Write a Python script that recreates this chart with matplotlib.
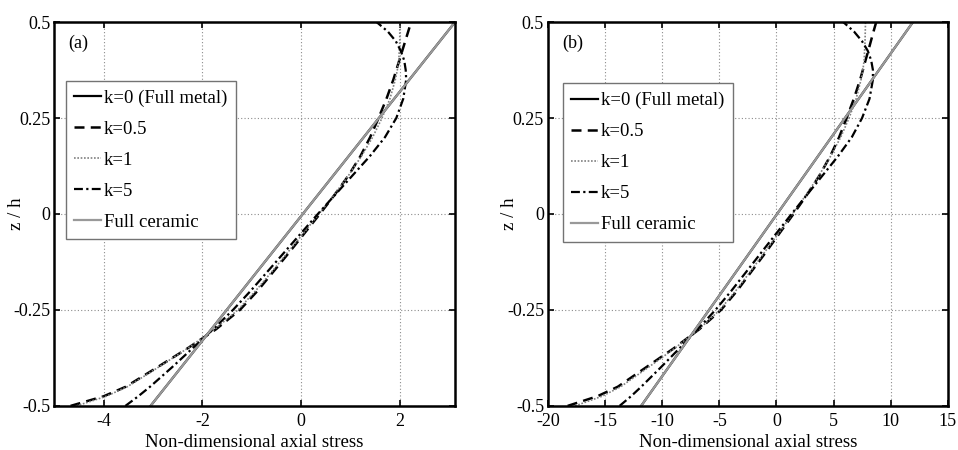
import matplotlib
matplotlib.use("Agg")
import matplotlib.pyplot as plt

plt.rcParams['font.family'] = ['Liberation Serif', 'DejaVu Serif']

z = [-0.5, -0.475, -0.45, -0.4, -0.35, -0.3, -0.25, -0.2, -0.15, -0.1, -0.05, 0.0,
     0.05, 0.1, 0.15, 0.2, 0.25, 0.3, 0.35, 0.375, 0.4, 0.425, 0.45, 0.475, 0.5]
z_lin = [-0.5, 0.5]

# Panel (a)
a_k0 = [-3.05, 3.12]
a_k05 = [-4.67, -4.0, -3.55, -2.92, -2.3, -1.72, -1.24, -0.88, -0.56, -0.24, 0.07, 0.38,
         0.68, 0.96, 1.2, 1.4, 1.57, 1.73, 1.87, 1.93, 1.99, 2.05, 2.11, 2.17, 2.23]
a_k1 = [-4.55, -3.95, -3.52, -2.9, -2.3, -1.75, -1.28, -0.92, -0.59, -0.27, 0.05, 0.36,
        0.67, 0.96, 1.22, 1.45, 1.64, 1.8, 1.91, 1.95, 1.98, 1.99, 2.0, 2.0, 2.0]
a_k5 = [-3.56, -3.3, -3.06, -2.62, -2.2, -1.78, -1.38, -1.02, -0.68, -0.34, 0.0, 0.34,
        0.69, 1.04, 1.39, 1.7, 1.93, 2.07, 2.13, 2.12, 2.09, 2.02, 1.92, 1.76, 1.53]
a_cer = [-3.05, 3.12]

# Panel (b)
b_k0 = [-11.86, 11.96]
b_k05 = [-18.3, -15.7, -13.9, -11.45, -9.0, -6.75, -4.86, -3.45, -2.2, -0.94, 0.27, 1.49,
         2.67, 3.76, 4.7, 5.49, 6.15, 6.78, 7.33, 7.57, 7.8, 8.04, 8.27, 8.5, 8.74]
b_k1 = [-17.65, -15.3, -13.65, -11.25, -8.92, -6.79, -4.97, -3.57, -2.29, -1.05, 0.19, 1.4,
        2.6, 3.72, 4.73, 5.63, 6.36, 6.98, 7.41, 7.57, 7.68, 7.72, 7.76, 7.78, 7.8]
b_k5 = [-13.75, -12.75, -11.85, -10.15, -8.5, -6.9, -5.35, -3.95, -2.63, -1.32, 0.0, 1.32,
        2.67, 4.03, 5.38, 6.6, 7.5, 8.15, 8.45, 8.45, 8.3, 8.0, 7.5, 6.8, 5.85]
b_cer = [-11.86, 11.96]

labels = ["k=0 (Full metal)", "k=0.5", "k=1", "k=5", "Full ceramic"]
yticks = [-0.5, -0.25, 0, 0.25, 0.5]
ytick_labels = ["-0.5", "-0.25", "0", "0.25", "0.5"]
a_xticks = [-4, -2, 0, 2]
b_xticks = [-20, -15, -10, -5, 0, 5, 10, 15]

fig = plt.figure(figsize=(9.58, 4.5), dpi=100)
ax_a = fig.add_axes([0.0567, 0.098, 0.4183, 0.853])
ax_b = fig.add_axes([0.5723, 0.098, 0.4169, 0.853])

def draw(ax, k0, k05, k1, k5, cer, xlim, xticks, tag, legx, legy, ylx):
    ax.plot(k0, z_lin, color='black', lw=1.6, ls='-', label=labels[0])
    ax.plot(k05, z, color='black', lw=1.8, ls=(0, (4, 2.5)), label=labels[1])
    ax.plot(k1, z, color='0.5', lw=1.2, ls=(0, (1, 1)), label=labels[2])
    ax.plot(k5, z, color='black', lw=1.6, ls=(0, (4, 1.5, 1, 1.5)), label=labels[3])
    ax.plot(cer, z_lin, color='0.6', lw=1.6, ls='-', label=labels[4])
    ax.set_xlim(*xlim)
    ax.set_ylim(-0.5, 0.5)
    ax.set_xticks(xticks)
    ax.set_xticklabels([str(t) for t in xticks])
    ax.set_yticks(yticks)
    ax.set_yticklabels(ytick_labels)
    ax.grid(True, color='0.55', ls=(0, (1, 2)), lw=0.8)
    ax.tick_params(direction='in', top=True, right=True, labelsize=13, length=4,
                   width=1.2)
    ax.tick_params(axis='x', pad=5)
    ax.tick_params(axis='y', pad=3)
    for s in ax.spines.values():
        s.set_linewidth(1.8)
    ax.set_xlabel("Non-dimensional axial stress", fontsize=13.5, labelpad=3)
    ax.set_ylabel("z / h", fontsize=13.5)
    ax.yaxis.set_label_coords(ylx, 0.5)
    ax.text(0.035, 0.945, tag, transform=ax.transAxes, fontsize=13, va='center', ha='left')
    leg = ax.legend(loc='upper left', bbox_to_anchor=(legx, legy), fontsize=13.5,
                    handlelength=1.45, handletextpad=0.15, labelspacing=0.74,
                    borderpad=0.45, borderaxespad=0, fancybox=False, framealpha=1,
                    edgecolor='0.45')
    leg.get_frame().set_linewidth(1.0)

draw(ax_a, a_k0, a_k05, a_k1, a_k5, a_cer, (-5, 3.12), a_xticks, "(a)", 0.028, 0.846, -0.073)
draw(ax_b, b_k0, b_k05, b_k1, b_k5, b_cer, (-20, 15), b_xticks, "(b)", 0.036, 0.84, -0.076)

fig.savefig("out.png", dpi=100)
